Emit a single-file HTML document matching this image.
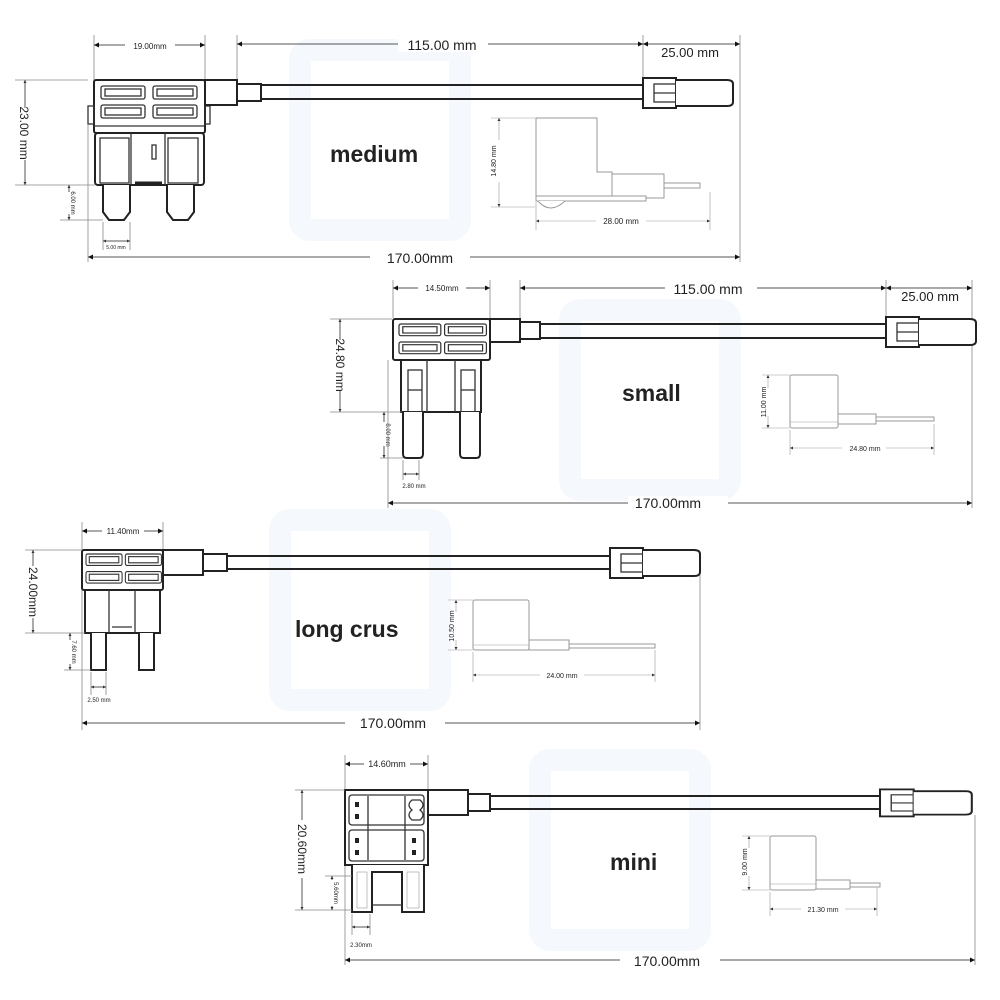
<!DOCTYPE html>
<html><head><meta charset="utf-8"><style>
html,body{margin:0;padding:0;background:#fff}
svg{display:block}
text{font-family:"Liberation Sans",sans-serif;fill:#222}
.b{stroke:#222;stroke-width:2;fill:#fff}
.t{stroke:#333;stroke-width:1.3;fill:none}
.d{stroke:#888;stroke-width:0.8;fill:none}
.g{stroke:#999;stroke-width:0.6;fill:none}
.dl{stroke:#555;stroke-width:1;fill:none}
.s{stroke:#999;stroke-width:1;fill:#fff}
</style></head><body>
<svg width="1000" height="1000" viewBox="0 0 1000 1000" xmlns="http://www.w3.org/2000/svg">
<defs>
<marker id="a" viewBox="0 0 10 10" refX="10" refY="5" markerWidth="7" markerHeight="5" orient="auto-start-reverse" markerUnits="userSpaceOnUse"><path d="M0,0L10,5L0,10z" fill="#111"/></marker>
<marker id="sa" viewBox="0 0 10 10" refX="10" refY="5" markerWidth="4" markerHeight="3" orient="auto-start-reverse" markerUnits="userSpaceOnUse"><path d="M0,0L10,5L0,10z" fill="#333"/></marker>
<g id="slot"><rect x="0" y="0" width="44" height="13" rx="2" class="t"/><rect x="4" y="3" width="36" height="7" class="t" stroke-width="1"/></g>
<g id="conn">
<rect x="0" y="-14" width="33" height="30" class="b"/>
<rect x="11" y="-8" width="22" height="18" class="t"/>
<line x1="11" y1="1" x2="33" y2="1" class="t"/>
<path d="M33,-12 L84,-12 Q90,-12 90,-8 L90,10 Q90,14 84,14 L33,14" class="b"/>
</g>
</defs>

<!-- faint watermark -->
<g fill="none" stroke="#f5f8fc" stroke-width="22">
<rect x="300" y="50" width="160" height="180" rx="10"/>
<rect x="570" y="310" width="160" height="180" rx="10"/>
<rect x="280" y="520" width="160" height="180" rx="10"/>
<rect x="540" y="760" width="160" height="180" rx="10"/>
</g>

<!-- ============ MEDIUM ============ -->
<g>
<line x1="94" y1="35" x2="94" y2="80" class="d"/><line x1="205" y1="35" x2="205" y2="80" class="d"/>
<line x1="237" y1="35" x2="237" y2="80" class="d"/><line x1="643" y1="35" x2="643" y2="78" class="d"/>
<line x1="740" y1="35" x2="740" y2="262" class="d"/>
<line x1="94" y1="45" x2="205" y2="45" class="dl" marker-start="url(#a)" marker-end="url(#a)"/>
<rect x="125" y="39" width="50" height="12" fill="#fff"/><text x="150" y="49" font-size="8" text-anchor="middle">19.00mm</text>
<line x1="237" y1="44" x2="643" y2="44" class="dl" marker-start="url(#a)" marker-end="url(#a)"/>
<rect x="398" y="36" width="90" height="16" fill="#fff"/><text x="442" y="50" font-size="14" text-anchor="middle">115.00 mm</text>
<line x1="643" y1="44" x2="740" y2="44" class="dl" marker-start="url(#a)" marker-end="url(#a)"/>
<text x="690" y="57" font-size="13" text-anchor="middle">25.00 mm</text>
<rect x="94" y="80" width="111" height="53" rx="2" class="b"/>
<line x1="94" y1="126" x2="205" y2="126" class="t"/>
<use href="#slot" x="101" y="86"/><use href="#slot" x="153" y="86"/>
<use href="#slot" x="101" y="105"/><use href="#slot" x="153" y="105"/>
<rect x="88" y="106" width="6" height="18" class="t"/><rect x="205" y="106" width="5" height="18" class="t"/>
<rect x="205" y="80" width="32" height="25" class="b"/>
<rect x="237" y="84" width="24" height="17" class="b"/>
<line x1="261" y1="85" x2="643" y2="85" class="b"/><line x1="261" y1="99" x2="643" y2="99" class="b"/>
<use href="#conn" x="643" y="92"/>
<rect x="95" y="133" width="109" height="52" rx="3" class="b"/>
<line x1="131" y1="133" x2="131" y2="185" class="t"/><line x1="165" y1="133" x2="165" y2="185" class="t"/>
<rect x="100" y="138" width="29" height="45" class="t"/><rect x="168" y="138" width="30" height="45" class="t"/>
<rect x="152" y="145" width="4" height="14" class="t"/>
<line x1="135" y1="183" x2="162" y2="183" stroke="#222" stroke-width="3"/>
<path d="M103,185 L103,212 L109,220 L124,220 L130,212 L130,185" class="b"/>
<path d="M167,185 L167,212 L173,220 L188,220 L194,212 L194,185" class="b"/>
<line x1="15" y1="80" x2="88" y2="80" class="d"/><line x1="15" y1="185" x2="95" y2="185" class="d"/>
<line x1="25" y1="80" x2="25" y2="185" class="dl" marker-start="url(#sa)" marker-end="url(#sa)"/>
<rect x="18" y="108" width="14" height="52" fill="#fff"/>
<text transform="translate(20,133) rotate(90)" font-size="12" text-anchor="middle">23.00 mm</text>
<line x1="60" y1="220" x2="103" y2="220" class="d"/>
<line x1="69" y1="185" x2="69" y2="220" class="dl" marker-start="url(#sa)" marker-end="url(#sa)"/>
<rect x="64" y="192" width="10" height="22" fill="#fff"/>
<text transform="translate(71,203) rotate(90)" font-size="6" text-anchor="middle">6.00 mm</text>
<line x1="88" y1="124" x2="88" y2="262" class="d"/>
<line x1="103" y1="222" x2="103" y2="250" class="d"/><line x1="130" y1="222" x2="130" y2="250" class="d"/>
<line x1="103" y1="241" x2="130" y2="241" class="dl" marker-start="url(#sa)" marker-end="url(#sa)"/>
<text x="116" y="249" font-size="5" text-anchor="middle">5.00 mm</text>
<line x1="88" y1="257" x2="740" y2="257" class="dl" marker-start="url(#a)" marker-end="url(#a)"/>
<rect x="370" y="250" width="100" height="16" fill="#fff"/><text x="420" y="263" font-size="14" text-anchor="middle">170.00mm</text>
<text x="330" y="162" font-size="23" font-weight="bold" fill="#111">medium</text>
<path d="M536,118 L597,118 L597,172 L612,172 L612,200 L536,200 Z" class="s"/>
<rect x="612" y="174" width="52" height="24" class="s"/><rect x="664" y="183" width="36" height="5" class="s"/>
<rect x="536" y="196" width="110" height="5" class="s"/>
<path d="M538,201 Q550,215 565,201" class="s"/>
<line x1="491" y1="118" x2="535" y2="118" class="g"/><line x1="491" y1="207" x2="535" y2="207" class="g"/>
<line x1="499" y1="118" x2="499" y2="207" class="g" marker-start="url(#sa)" marker-end="url(#sa)"/>
<rect x="494" y="140" width="10" height="42" fill="#fff"/>
<text transform="translate(496,161) rotate(-90)" font-size="7" text-anchor="middle">14.80 mm</text>
<line x1="536" y1="202" x2="536" y2="230" class="g"/><line x1="710" y1="192" x2="710" y2="230" class="g"/>
<line x1="536" y1="221" x2="710" y2="221" class="g" marker-start="url(#sa)" marker-end="url(#sa)"/>
<rect x="596" y="215" width="50" height="11" fill="#fff"/><text x="621" y="224" font-size="8" text-anchor="middle">28.00 mm</text>
</g>

<!-- ============ SMALL ============ -->
<g>
<line x1="393" y1="280" x2="393" y2="318" class="d"/><line x1="490" y1="280" x2="490" y2="318" class="d"/>
<line x1="520" y1="280" x2="520" y2="318" class="d"/><line x1="886" y1="280" x2="886" y2="318" class="d"/>
<line x1="972" y1="280" x2="972" y2="508" class="d"/>
<line x1="393" y1="288" x2="490" y2="288" class="dl" marker-start="url(#a)" marker-end="url(#a)"/>
<rect x="418" y="282" width="48" height="12" fill="#fff"/><text x="442" y="291" font-size="8" text-anchor="middle">14.50mm</text>
<line x1="520" y1="288" x2="886" y2="288" class="dl" marker-start="url(#a)" marker-end="url(#a)"/>
<rect x="665" y="280" width="92" height="16" fill="#fff"/><text x="708" y="294" font-size="14" text-anchor="middle">115.00 mm</text>
<line x1="886" y1="288" x2="972" y2="288" class="dl" marker-start="url(#a)" marker-end="url(#a)"/>
<text x="930" y="301" font-size="13" text-anchor="middle">25.00 mm</text>
<rect x="393" y="319" width="97" height="41" rx="2" class="b"/>
<g transform="translate(399,324) scale(0.95,0.9)"><use href="#slot" x="0" y="0"/><use href="#slot" x="48" y="0"/><use href="#slot" x="0" y="20"/><use href="#slot" x="48" y="20"/></g>
<rect x="490" y="319" width="30" height="23" class="b"/>
<rect x="520" y="322" width="20" height="17" class="b"/>
<line x1="540" y1="324" x2="886" y2="324" class="b"/><line x1="540" y1="338" x2="886" y2="338" class="b"/>
<use href="#conn" x="886" y="331"/>
<rect x="401" y="360" width="80" height="52" class="b"/>
<line x1="427" y1="360" x2="427" y2="412" class="t"/><line x1="455" y1="360" x2="455" y2="412" class="t"/>
<rect x="408" y="370" width="14" height="42" class="t"/><rect x="461" y="370" width="14" height="42" class="t"/>
<line x1="408" y1="390" x2="422" y2="390" class="t"/><line x1="461" y1="390" x2="475" y2="390" class="t"/>
<path d="M403,412 L403,454 Q403,458 407,458 L419,458 Q423,458 423,454 L423,412" class="b"/>
<path d="M460,412 L460,454 Q460,458 464,458 L476,458 Q480,458 480,454 L480,412" class="b"/>
<line x1="330" y1="319" x2="392" y2="319" class="d"/><line x1="330" y1="412" x2="402" y2="412" class="d"/>
<line x1="340" y1="319" x2="340" y2="412" class="dl" marker-start="url(#sa)" marker-end="url(#sa)"/>
<rect x="333" y="340" width="14" height="50" fill="#fff"/>
<text transform="translate(336,365) rotate(90)" font-size="12" text-anchor="middle">24.80 mm</text>
<line x1="380" y1="458" x2="403" y2="458" class="d"/>
<line x1="384" y1="412" x2="384" y2="458" class="dl" marker-start="url(#sa)" marker-end="url(#sa)"/>
<rect x="379" y="422" width="10" height="24" fill="#fff"/>
<text transform="translate(386,435) rotate(90)" font-size="6" text-anchor="middle">8.00 mm</text>
<line x1="388" y1="360" x2="388" y2="508" class="d"/>
<line x1="403" y1="460" x2="403" y2="480" class="d"/><line x1="419" y1="460" x2="419" y2="480" class="d"/>
<line x1="403" y1="474" x2="419" y2="474" class="dl" marker-start="url(#sa)" marker-end="url(#sa)"/>
<text x="414" y="488" font-size="6" text-anchor="middle">2.80 mm</text>
<line x1="388" y1="503" x2="972" y2="503" class="dl" marker-start="url(#a)" marker-end="url(#a)"/>
<rect x="628" y="496" width="100" height="16" fill="#fff"/><text x="668" y="508" font-size="14" text-anchor="middle">170.00mm</text>
<text x="622" y="401" font-size="23" font-weight="bold" fill="#111">small</text>
<rect x="790" y="375" width="48" height="53" rx="2" class="s" stroke="#666"/>
<line x1="790" y1="422" x2="838" y2="422" class="g"/>
<rect x="838" y="414" width="38" height="10" class="s"/><rect x="876" y="417" width="58" height="4" class="s"/>
<line x1="762" y1="375" x2="790" y2="375" class="g"/><line x1="762" y1="428" x2="790" y2="428" class="g"/>
<line x1="768" y1="375" x2="768" y2="428" class="g" marker-start="url(#sa)" marker-end="url(#sa)"/>
<rect x="763" y="388" width="10" height="28" fill="#fff"/>
<text transform="translate(766,402) rotate(-90)" font-size="7" text-anchor="middle">11.00 mm</text>
<line x1="790" y1="430" x2="790" y2="455" class="g"/><line x1="934" y1="424" x2="934" y2="455" class="g"/>
<line x1="790" y1="448" x2="934" y2="448" class="g" marker-start="url(#sa)" marker-end="url(#sa)"/>
<rect x="842" y="443" width="44" height="11" fill="#fff"/><text x="865" y="451" font-size="7" text-anchor="middle">24.80 mm</text>
</g>

<!-- ============ LONG CRUS ============ -->
<g>
<line x1="82" y1="522" x2="82" y2="730" class="d"/><line x1="163" y1="522" x2="163" y2="550" class="d"/>
<line x1="700" y1="575" x2="700" y2="730" class="d"/>
<line x1="82" y1="531" x2="163" y2="531" class="dl" marker-start="url(#a)" marker-end="url(#a)"/>
<rect x="102" y="525" width="42" height="12" fill="#fff"/><text x="123" y="534" font-size="8" text-anchor="middle">11.40mm</text>
<rect x="82" y="550" width="81" height="40" rx="2" class="b"/>
<g transform="translate(86,554) scale(0.82,0.88)"><use href="#slot" x="0" y="0"/><use href="#slot" x="48" y="0"/><use href="#slot" x="0" y="20"/><use href="#slot" x="48" y="20"/></g>
<rect x="163" y="550" width="40" height="25" class="b"/>
<rect x="203" y="554" width="24" height="17" class="b"/>
<line x1="227" y1="556" x2="610" y2="556" class="b"/><line x1="227" y1="569" x2="610" y2="569" class="b"/>
<use href="#conn" x="610" y="562"/>
<rect x="85" y="590" width="75" height="43" class="b"/>
<line x1="109" y1="590" x2="109" y2="633" class="t"/><line x1="135" y1="590" x2="135" y2="633" class="t"/>
<line x1="112" y1="627" x2="132" y2="627" class="t"/>
<path d="M91,633 L91,670 L106,670 L106,633" class="b"/>
<path d="M139,633 L139,670 L154,670 L154,633" class="b"/>
<line x1="25" y1="550" x2="82" y2="550" class="d"/><line x1="25" y1="633" x2="85" y2="633" class="d"/>
<line x1="33" y1="550" x2="33" y2="633" class="dl" marker-start="url(#sa)" marker-end="url(#sa)"/>
<rect x="26" y="566" width="14" height="52" fill="#fff"/>
<text transform="translate(29,592) rotate(90)" font-size="12" text-anchor="middle">24.00mm</text>
<line x1="64" y1="670" x2="91" y2="670" class="d"/>
<line x1="70" y1="633" x2="70" y2="670" class="dl" marker-start="url(#sa)" marker-end="url(#sa)"/>
<rect x="66" y="640" width="10" height="24" fill="#fff"/>
<text transform="translate(72,652) rotate(90)" font-size="6" text-anchor="middle">7.60 mm</text>
<line x1="91" y1="672" x2="91" y2="695" class="d"/><line x1="106" y1="672" x2="106" y2="695" class="d"/>
<line x1="91" y1="687" x2="106" y2="687" class="dl" marker-start="url(#sa)" marker-end="url(#sa)"/>
<text x="99" y="702" font-size="6" text-anchor="middle">2.50 mm</text>
<line x1="82" y1="723" x2="700" y2="723" class="dl" marker-start="url(#a)" marker-end="url(#a)"/>
<rect x="345" y="716" width="100" height="16" fill="#fff"/><text x="393" y="728" font-size="14" text-anchor="middle">170.00mm</text>
<text x="295" y="637" font-size="23" font-weight="bold" fill="#111">long crus</text>
<rect x="473" y="600" width="56" height="50" rx="2" class="s" stroke="#666"/>
<line x1="473" y1="645" x2="529" y2="645" class="g"/>
<rect x="529" y="640" width="40" height="10" class="s"/><rect x="569" y="644" width="86" height="4" class="s"/>
<line x1="448" y1="600" x2="473" y2="600" class="g"/><line x1="448" y1="650" x2="473" y2="650" class="g"/>
<line x1="456" y1="600" x2="456" y2="650" class="g" marker-start="url(#sa)" marker-end="url(#sa)"/>
<rect x="451" y="612" width="10" height="28" fill="#fff"/>
<text transform="translate(454,626) rotate(-90)" font-size="7" text-anchor="middle">10.50 mm</text>
<line x1="473" y1="652" x2="473" y2="682" class="g"/><line x1="655" y1="650" x2="655" y2="682" class="g"/>
<line x1="473" y1="675" x2="655" y2="675" class="g" marker-start="url(#sa)" marker-end="url(#sa)"/>
<rect x="540" y="670" width="44" height="11" fill="#fff"/><text x="562" y="678" font-size="7" text-anchor="middle">24.00 mm</text>
</g>

<!-- ============ MINI ============ -->
<g>
<line x1="345" y1="755" x2="345" y2="965" class="d"/><line x1="428" y1="755" x2="428" y2="790" class="d"/>
<line x1="975" y1="815" x2="975" y2="965" class="d"/>
<line x1="345" y1="764" x2="428" y2="764" class="dl" marker-start="url(#a)" marker-end="url(#a)"/>
<rect x="364" y="757" width="46" height="13" fill="#fff"/><text x="387" y="767" font-size="9" text-anchor="middle">14.60mm</text>
<rect x="345" y="790" width="83" height="75" class="b"/>
<rect x="349" y="795" width="75" height="30" rx="3" class="t"/><rect x="349" y="830" width="75" height="31" rx="3" class="t"/>
<line x1="368" y1="796" x2="368" y2="860" class="t"/><line x1="405" y1="796" x2="405" y2="860" class="t"/>
<rect x="355" y="802" width="4" height="5" fill="#222"/><rect x="355" y="814" width="4" height="5" fill="#222"/>
<rect x="355" y="838" width="4" height="5" fill="#222"/><rect x="355" y="850" width="4" height="5" fill="#222"/>
<rect x="412" y="838" width="4" height="5" fill="#222"/><rect x="412" y="850" width="4" height="5" fill="#222"/>
<path d="M412,800 Q406,805 412,810 Q406,815 412,820 L420,820 Q426,815 420,810 Q426,805 420,800 Z" class="t"/>
<rect x="428" y="790" width="40" height="25" class="b"/>
<rect x="468" y="794" width="22" height="17" class="b"/>
<line x1="490" y1="796" x2="880" y2="796" class="b"/><line x1="490" y1="809" x2="880" y2="809" class="b"/>
<g transform="translate(880,802) scale(1.02,0.9)"><use href="#conn" x="0" y="0"/></g>
<path d="M352,865 L352,912 L372,912 L372,872 L402,872 L402,912 L424,912 L424,865" class="b"/>
<line x1="372" y1="905" x2="402" y2="905" class="t"/>
<rect x="357" y="872" width="10" height="36" class="g"/><rect x="407" y="872" width="12" height="36" class="g"/>
<line x1="295" y1="790" x2="345" y2="790" class="d"/><line x1="295" y1="910" x2="352" y2="910" class="d"/>
<line x1="302" y1="790" x2="302" y2="910" class="dl" marker-start="url(#sa)" marker-end="url(#sa)"/>
<rect x="295" y="820" width="14" height="58" fill="#fff"/>
<text transform="translate(298,849) rotate(90)" font-size="12" text-anchor="middle">20.60mm</text>
<line x1="325" y1="876" x2="352" y2="876" class="d"/>
<line x1="332" y1="876" x2="332" y2="910" class="dl" marker-start="url(#sa)" marker-end="url(#sa)"/>
<rect x="327" y="880" width="10" height="26" fill="#fff"/>
<text transform="translate(334,893) rotate(90)" font-size="6" text-anchor="middle">5.60mm</text>
<line x1="352" y1="914" x2="352" y2="935" class="d"/><line x1="370" y1="914" x2="370" y2="935" class="d"/>
<line x1="352" y1="927" x2="370" y2="927" class="dl" marker-start="url(#sa)" marker-end="url(#sa)"/>
<text x="361" y="947" font-size="6" text-anchor="middle">2.30mm</text>
<line x1="345" y1="960" x2="975" y2="960" class="dl" marker-start="url(#a)" marker-end="url(#a)"/>
<rect x="620" y="953" width="100" height="16" fill="#fff"/><text x="667" y="966" font-size="14" text-anchor="middle">170.00mm</text>
<text x="610" y="870" font-size="23" font-weight="bold" fill="#111">mini</text>
<rect x="770" y="836" width="46" height="54" rx="2" class="s" stroke="#666"/>
<line x1="770" y1="884" x2="816" y2="884" class="g"/>
<rect x="816" y="880" width="34" height="9" class="s"/><rect x="850" y="883" width="30" height="4" class="s"/>
<line x1="742" y1="836" x2="770" y2="836" class="g"/><line x1="742" y1="890" x2="770" y2="890" class="g"/>
<line x1="749" y1="836" x2="749" y2="890" class="g" marker-start="url(#sa)" marker-end="url(#sa)"/>
<rect x="744" y="848" width="10" height="28" fill="#fff"/>
<text transform="translate(747,862) rotate(-90)" font-size="7" text-anchor="middle">9.00 mm</text>
<line x1="770" y1="892" x2="770" y2="916" class="g"/><line x1="877" y1="888" x2="877" y2="916" class="g"/>
<line x1="770" y1="909" x2="877" y2="909" class="g" marker-start="url(#sa)" marker-end="url(#sa)"/>
<rect x="801" y="904" width="44" height="11" fill="#fff"/><text x="823" y="912" font-size="7" text-anchor="middle">21.30 mm</text>
</g>
</svg>
</body></html>
